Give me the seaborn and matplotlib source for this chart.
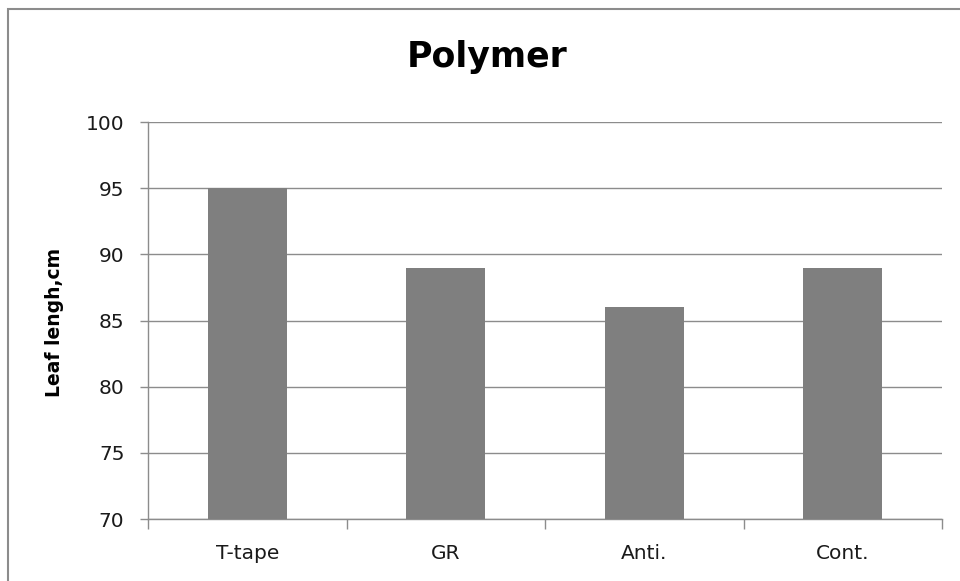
import matplotlib
matplotlib.use("Agg")
import matplotlib.pyplot as plt
from matplotlib.patches import Rectangle
import seaborn as sns
import pandas as pd

# Leaf length by polymer treatment
categories = ["T-tape", "GR", "Anti.", "Cont."]
leaf_length = [95, 89, 86, 89]
y_ticks = [70, 75, 80, 85, 90, 95, 100]

sns.set_theme(style="white")
plt.rcParams["font.family"] = ["DejaVu Sans"]

df = pd.DataFrame({"treatment": categories, "length": leaf_length})

fig = plt.figure(figsize=(9.6, 5.81), dpi=100)
ax = fig.add_axes([148 / 960, 62 / 581, (942 - 148) / 960, (519 - 122) / 581])

# outer chart frame
fig.patches.append(Rectangle((8 / 960, -0.05), 1.1, 1 - 9 / 581 + 0.05,
                             transform=fig.transFigure, fill=False,
                             edgecolor="#8c8c8c", linewidth=1.5, zorder=0))

sns.barplot(data=df, x="treatment", y="length", color="#7f7f7f",
            saturation=1, width=0.4, linewidth=0, ax=ax, zorder=3)

ax.set_ylim(70, 100)
ax.set_xlim(-0.5, len(categories) - 0.5)
ax.set_yticks(y_ticks)
ax.set_yticklabels([str(v) for v in y_ticks], fontsize=14.5, color="#1a1a1a")
ax.set_xticks(range(len(categories)))
ax.set_xticklabels(categories, fontsize=14.5, color="#1a1a1a")
ax.set_xticks([i - 0.5 for i in range(len(categories) + 1)], minor=True)

ax.tick_params(axis="x", which="major", length=0, pad=18)
ax.tick_params(axis="x", which="minor", length=7, width=1, color="#8c8c8c",
               direction="out", bottom=True)
ax.tick_params(axis="y", which="major", length=6, width=1, color="#8c8c8c",
               direction="out", left=True, pad=11)

ax.grid(axis="y", color="#8c8c8c", linewidth=1, zorder=0)
ax.set_axisbelow(True)
for side in ["top", "right"]:
    ax.spines[side].set_visible(False)
for side in ["left", "bottom"]:
    ax.spines[side].set_color("#8c8c8c")
    ax.spines[side].set_linewidth(1)

ax.set_xlabel("")
ax.set_ylabel("Leaf lengh,cm", fontsize=13.5, fontweight="bold", color="black")
ax.yaxis.label.set_verticalalignment("center")
ax.yaxis.set_label_coords((55 - 148) / 794, (519 - 322) / 397)

fig.text(487 / 960, 1 - 67 / 581, "Polymer", fontsize=25,
         fontweight="bold", ha="center", va="baseline", color="black")

fig.savefig("out.png", dpi=100, facecolor="white")
